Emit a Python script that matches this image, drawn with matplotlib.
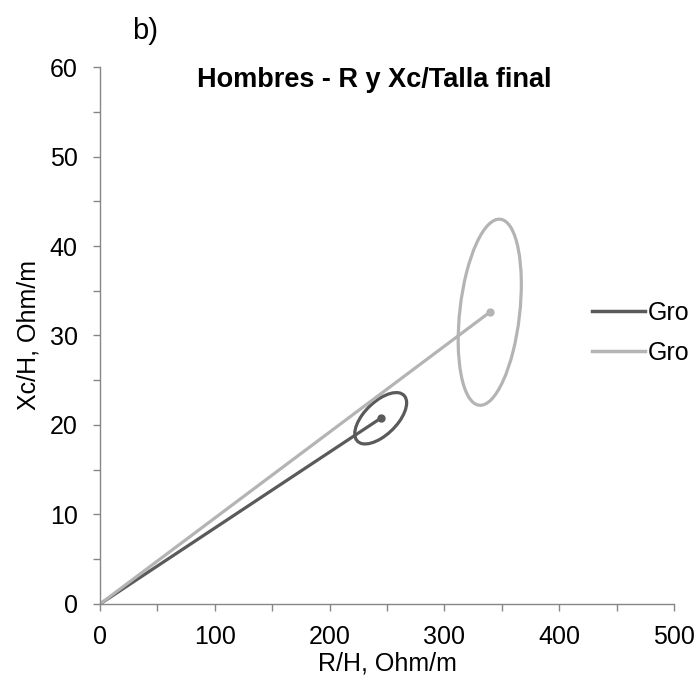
import matplotlib
matplotlib.use('Agg')
import matplotlib.pyplot as plt
from matplotlib.lines import Line2D
from matplotlib.patches import Ellipse
from matplotlib.ticker import MultipleLocator
import numpy as np

plt.rcParams['font.family'] = ['Liberation Sans', 'DejaVu Sans']

# values
group_labels = ['Gro', 'Gro']
mean_r = [244.5, 339.5]
mean_xc = [20.75, 32.6]
sd_r = [22.6, 27.5]
sd_xc = [2.87, 10.4]
corr_r_xc = [0.60, 0.30]
colors = ['#5a5a5a', '#b4b4b4']

x_ticks = [0, 100, 200, 300, 400, 500]
y_ticks = [0, 10, 20, 30, 40, 50, 60]

fig = plt.figure(figsize=(6.97, 6.79), dpi=100)
ax = fig.add_axes([0.1435, 0.1105, 0.8235, 0.7908])

handles = []
for i in range(len(group_labels)):
    ax.plot([0, mean_r[i]], [0, mean_xc[i]], color=colors[i], lw=2.3,
            marker='o', markersize=5, markevery=[1], solid_capstyle='round')
    handles.append(Line2D([], [], color=colors[i], lw=2.5))

    # tolerance ellipse around the group mean
    cov = np.array([[sd_r[i] ** 2, corr_r_xc[i] * sd_r[i] * sd_xc[i]],
                    [corr_r_xc[i] * sd_r[i] * sd_xc[i], sd_xc[i] ** 2]])
    vals, vecs = np.linalg.eigh(cov)
    angle = np.degrees(np.arctan2(vecs[1, 1], vecs[0, 1]))
    ell = Ellipse((mean_r[i], mean_xc[i]), 2 * np.sqrt(vals[1]), 2 * np.sqrt(vals[0]),
                  angle=angle, fill=False, edgecolor=colors[i], lw=2.3)
    ax.add_patch(ell)

ax.set_xlim(x_ticks[0], x_ticks[-1])
ax.set_ylim(y_ticks[0], y_ticks[-1])
ax.set_xticks(x_ticks)
ax.set_yticks(y_ticks)
ax.xaxis.set_minor_locator(MultipleLocator(50))
ax.yaxis.set_minor_locator(MultipleLocator(5))

for side in ['top', 'right']:
    ax.spines[side].set_visible(False)
for side in ['left', 'bottom']:
    ax.spines[side].set_color('#868686')
    ax.spines[side].set_linewidth(1.0)

ax.tick_params(which='major', length=5, width=1, color='#868686', labelsize=18)
ax.tick_params(axis='x', which='major', pad=10)
ax.tick_params(axis='y', which='major', pad=11)
ax.tick_params(which='minor', length=5, width=1, color='#868686')

ax.set_xlabel('R/H, Ohm/m', fontsize=18, labelpad=2)
ax.set_ylabel('Xc/H, Ohm/m', fontsize=18, labelpad=7)

ax.text(0.477, 0.963, 'Hombres - R y Xc/Talla final', transform=ax.transAxes,
        ha='center', va='baseline', fontsize=19.5, fontweight='bold')

fig.text(132 / 697, 1 - 39 / 679, 'b)', fontsize=21)

fig.legend(handles=handles, labels=group_labels, loc='upper left',
           bbox_to_anchor=(592 / 697, 1 - 301 / 679), frameon=False,
           fontsize=18, handlelength=2.1, handletextpad=0.12, borderpad=0,
           borderaxespad=0, labelspacing=0.62)

fig.savefig('out.png', dpi=100)
